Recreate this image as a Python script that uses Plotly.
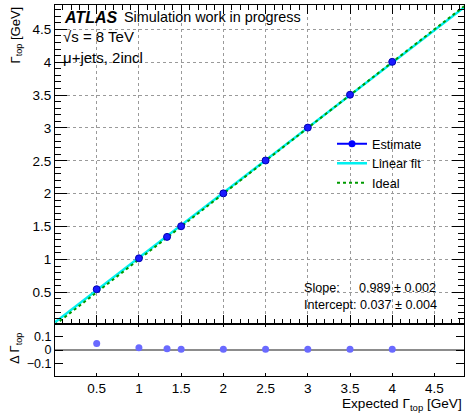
import numpy as np
import plotly.graph_objects as go

# Injected vs. reconstructed top-quark width
expected = [0.5, 1.0, 1.333, 1.5, 2.0, 2.5, 3.0, 3.5, 4.0]
delta = [0.047, 0.017, 0.010, 0.005, 0.005, 0.005, 0.005, 0.005, 0.005]
estimate = [e + d for e, d in zip(expected, delta)]

slope = 0.989
slope_err = 0.002
intercept = 0.037
intercept_err = 0.004

X_RANGE = [0.006, 4.85]
Y_RANGE = [0.018, 4.87]
D_RANGE = [-0.19, 0.19]

FONT = "Liberation Sans, Arial, Helvetica, sans-serif"
W, H = 467, 416
ML, MR, MT, MB = 55, 3, 5, 40
PW, PH = W - ML - MR, H - MT - MB
SPLIT = (376 - 324) / PH  # lower panel fraction of plot height


def px_x(p):
    return (p - ML) / PW


def px_y(p):
    return (H - MB - p) / PH


xline = np.array(X_RANGE)

fig = go.Figure()

fig.add_trace(go.Scatter(
    x=xline, y=slope * xline + intercept, mode="lines",
    line=dict(color="#00f0f0", width=2.5), name="Linear fit",
    xaxis="x", yaxis="y", showlegend=False))
fig.add_trace(go.Scatter(
    x=xline, y=xline, mode="lines",
    line=dict(color="#009a00", width=2, dash="dot"), name="Ideal",
    xaxis="x", yaxis="y", showlegend=False))
fig.add_trace(go.Scatter(
    x=expected, y=estimate, mode="markers",
    marker=dict(color="#1a1aff", size=7, line=dict(color="#0000b0", width=1)),
    name="Estimate", xaxis="x", yaxis="y", showlegend=False))

# legend entries
fig.add_trace(go.Scatter(x=[None], y=[None], mode="lines+markers",
                         line=dict(color="#0000ff", width=2),
                         marker=dict(color="#0000ff", size=7),
                         name="Estimate", xaxis="x", yaxis="y"))
fig.add_trace(go.Scatter(x=[None], y=[None], mode="lines",
                         line=dict(color="#00f0f0", width=2.5),
                         name="Linear fit", xaxis="x", yaxis="y"))
fig.add_trace(go.Scatter(x=[None], y=[None], mode="lines",
                         line=dict(color="#009a00", width=2, dash="dot"),
                         name="Ideal", xaxis="x", yaxis="y"))

# residual panel
fig.add_trace(go.Scatter(
    x=expected, y=delta, mode="markers",
    marker=dict(color="#6a6aff", size=7),
    xaxis="x2", yaxis="y2", showlegend=False))

axis_common = dict(showline=True, linecolor="black", linewidth=1,
                   mirror="allticks", ticks="inside", tickcolor="black",
                   tickfont=dict(family=FONT, size=13.5, color="black"),
                   zeroline=False)

fig.update_layout(
    width=W, height=H,
    margin=dict(l=ML, r=MR, t=MT, b=MB),
    paper_bgcolor="white", plot_bgcolor="white",
    font=dict(family=FONT, color="black"),
    xaxis=dict(axis_common, domain=[0, 1], range=X_RANGE, anchor="y",
               showticklabels=False, tick0=0, dtick=0.5, ticklen=9,
               showgrid=True, gridcolor="#9a9a9a", griddash="dot", gridwidth=1,
               minor=dict(dtick=0.1, tick0=0, ticklen=5, ticks="inside",
                          tickcolor="black", showgrid=False)),
    yaxis=dict(axis_common, domain=[SPLIT, 1], range=Y_RANGE, anchor="x",
               tick0=0, dtick=0.5, ticklen=12, tickvals=[0.5, 1, 1.5, 2, 2.5, 3, 3.5, 4, 4.5],
               ticktext=["0.5", "1", "1.5", "2", "2.5", "3", "3.5", "4", "4.5"],
               showgrid=True, gridcolor="#9a9a9a", griddash="dot", gridwidth=1,
               minor=dict(dtick=0.1, tick0=0, ticklen=6, ticks="inside",
                          tickcolor="black", showgrid=False)),
    xaxis2=dict(axis_common, domain=[0, 1], range=X_RANGE, anchor="y2",
                tickvals=[0.5, 1, 1.5, 2, 2.5, 3, 3.5, 4, 4.5],
                ticktext=["0.5", "1", "1.5", "2", "2.5", "3", "3.5", "4", "4.5"],
                ticklen=3, showgrid=False),
    yaxis2=dict(axis_common, domain=[0, SPLIT], range=D_RANGE, anchor="x2",
                tickvals=[-0.1, 0, 0.1], ticktext=["\u22120.1", "0", "0.1"],
                tickfont=dict(family=FONT, size=12.5, color="black"),
                ticklen=8, showgrid=False,
                zeroline=True, zerolinecolor="#8c8c8c", zerolinewidth=1.5),
    legend=dict(x=px_x(332), y=px_y(129), xanchor="left", yanchor="top",
                bgcolor="rgba(0,0,0,0)", font=dict(family=FONT, size=12.7),
                itemwidth=30, tracegroupgap=0),
)

annotations = [
    dict(text="<b><i>ATLAS</i></b>", x=px_x(62), y=px_y(17), xanchor="left", yanchor="middle",
         font=dict(size=16)),
    dict(text="Simulation work in progress", x=px_x(122), y=px_y(17), xanchor="left",
         yanchor="middle", font=dict(size=14.4)),
    dict(text="\u221as = 8 TeV", x=px_x(61), y=px_y(37), xanchor="left", yanchor="middle",
         font=dict(size=15)),
    dict(text="\u03bc+jets, 2incl", x=px_x(61), y=px_y(57), xanchor="left", yanchor="middle",
         font=dict(size=15)),
    dict(text="Slope:", x=px_x(302), y=px_y(288), xanchor="left", yanchor="middle",
         font=dict(size=12.6)),
    dict(text=f"{slope:.3f} \u00b1 {slope_err:.3f}", x=px_x(438), y=px_y(288),
         xanchor="right", yanchor="middle", font=dict(size=12.6)),
    dict(text=f"Intercept: {intercept:.3f} \u00b1 {intercept_err:.3f}", x=px_x(302),
         y=px_y(305), xanchor="left", yanchor="middle", font=dict(size=12.6)),
    dict(text="\u0393<sub>top</sub> [GeV]", x=px_x(16), y=1, xanchor="center", yanchor="top",
         textangle=-90, font=dict(size=13)),
    dict(text="\u0394 \u0393<sub>top</sub>", x=px_x(15), y=px_y(349), xanchor="center",
         yanchor="middle", textangle=-90, font=dict(size=13)),
    dict(text="Expected \u0393<sub>top</sub> [GeV]", x=1, y=px_y(405), xanchor="right",
         yanchor="middle", font=dict(size=13.6)),
]
for a in annotations:
    a.update(xref="paper", yref="paper", showarrow=False)
    a.setdefault("font", {})
    a["font"].setdefault("family", FONT)
    a["font"].setdefault("color", "black")
fig.update_layout(annotations=annotations)

fig.write_html("out.html")
